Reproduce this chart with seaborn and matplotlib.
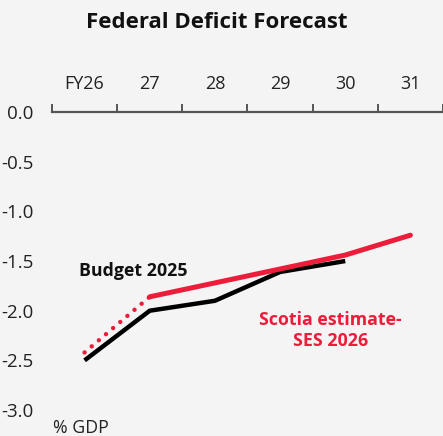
import matplotlib
matplotlib.use("Agg")
import matplotlib.pyplot as plt
import seaborn as sns
import pandas as pd
import numpy as np

years = ["FY26", "27", "28", "29", "30", "31"]
budget_2025 = [-2.50, -2.00, -1.90, -1.61, -1.50, np.nan]
scotia_ses = [-2.42, -1.86, -1.72, -1.58, -1.44, -1.24]
y_ticks = [0.0, -0.5, -1.0, -1.5, -2.0, -2.5, -3.0]

BG = "#F3F4F3"
RED = "#EC1D3A"

sns.set_theme(style="white")
plt.rcParams["font.family"] = ["Open Sans", "DejaVu Sans"]

fig = plt.figure(figsize=(4.43, 4.36), dpi=100, facecolor=BG)
ax = fig.add_axes([52 / 443, 1 - 420 / 436, 391 / 443, (420 - 112) / 436])
ax.set_facecolor(BG)

x = np.arange(len(years))
df_b = pd.DataFrame({"x": x, "v": budget_2025}).dropna()
df_s_solid = pd.DataFrame({"x": x[1:], "v": scotia_ses[1:]})
df_s_dot = pd.DataFrame({"x": x[:2], "v": scotia_ses[:2]})

sns.lineplot(data=df_b, x="x", y="v", ax=ax, color="black", lw=3.2,
             solid_capstyle="butt", solid_joinstyle="miter")
sns.lineplot(data=df_s_solid, x="x", y="v", ax=ax, color=RED, lw=3.6,
             solid_capstyle="round")
sns.lineplot(data=df_s_dot, x="x", y="v", ax=ax, color=RED, lw=3.2,
             linestyle=(0, (0.01, 2.1)), dash_capstyle="round")

ax.set_xlim(-0.5, 5.5)
ax.set_ylim(-3.1, 0)
ax.set_xlabel("")
ax.set_ylabel("")

ax.xaxis.tick_top()
ax.set_xticks(x)
ax.set_xticklabels(years, fontsize=13, color="#222222")
ax.set_xticks(np.arange(-0.5, 6.0, 1.0), minor=True)
ax.tick_params(axis="x", which="major", length=0, pad=14)
ax.tick_params(axis="x", which="minor", length=6, width=1.4, color="#555555",
               direction="out", top=True, bottom=False)

ax.set_yticks(y_ticks)
ax.set_yticklabels([f"{v:.1f}" for v in y_ticks], fontsize=13.5, color="#222222")
ax.tick_params(axis="y", length=0, pad=13.5)

for s in ["left", "right", "bottom"]:
    ax.spines[s].set_visible(False)
ax.spines["top"].set_color("#555555")
ax.spines["top"].set_linewidth(1.6)

fig.text(217 / 443, 1 - 22 / 436, "Federal Deficit Forecast", ha="center",
         va="center", fontsize=16, fontweight="bold", color="#111111")
ax.text(0.74, -1.6, "Budget 2025", ha="center", va="center", fontsize=12.8,
        fontweight="bold", color="#111111")
ax.text(3.77, -2.2, "Scotia estimate-\nSES 2026", ha="center", va="center",
        fontsize=12.8, fontweight="bold", color=RED, linespacing=1.2)
fig.text(53 / 443, 1 - 428 / 436, "% GDP", ha="left", va="center",
         fontsize=12.8, color="#222222")

fig.savefig("out.png", dpi=100, facecolor=BG)
